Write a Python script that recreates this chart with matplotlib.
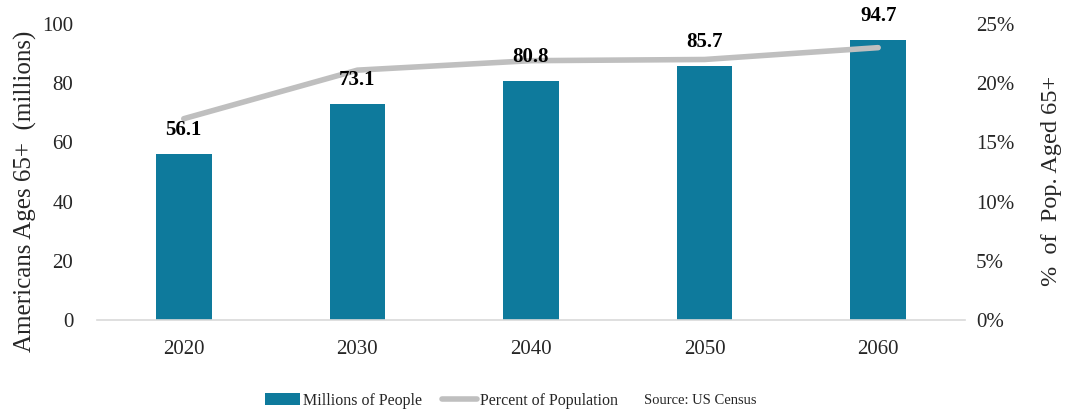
import matplotlib
matplotlib.use("Agg")
import matplotlib.pyplot as plt
from matplotlib.ticker import FuncFormatter
from matplotlib.lines import Line2D
from matplotlib.patches import Patch

years = ["2020", "2030", "2040", "2050", "2060"]
millions = [56.1, 73.1, 80.8, 85.7, 94.7]
percent = [17.0, 21.1, 21.9, 22.0, 23.0]

bar_color = "#0E7A9C"
line_color = "#BFBFBF"
text_color = "#262626"

plt.rcParams["font.family"] = ["Liberation Serif", "DejaVu Serif"]

fig = plt.figure(figsize=(10.69, 4.13), dpi=100)
ax = fig.add_axes([0.0907, 0.225, 0.812, 0.717])
ax2 = ax.twinx()

x = list(range(len(years)))
ax.bar(x, millions, width=0.32, color=bar_color, zorder=2)

ax2.plot(x, percent, color=line_color, lw=4, solid_capstyle="round",
         solid_joinstyle="round", zorder=2)

# value labels sit on the secondary axes so they render above the line
for xi, v in zip(x, millions):
    ax2.annotate(f"{v:.1f}", (xi, v), xycoords=ax.transData, xytext=(0, 10),
                 textcoords="offset points", ha="center", va="bottom",
                 fontsize=15, fontweight="bold", color="black", zorder=5)

ax.set_xlim(-0.5, 4.5)
ax.set_ylim(0, 100)
ax.set_yticks(range(0, 101, 20))
ax2.set_ylim(0, 25)
ax2.set_yticks(range(0, 26, 5))
ax2.yaxis.set_major_formatter(FuncFormatter(lambda v, _: f"{v:.0f}%"))
ax.set_xticks(x)
ax.set_xticklabels(years)

for a in (ax, ax2):
    for s in ("top", "left", "right", "bottom"):
        a.spines[s].set_visible(False)
    a.tick_params(length=0, labelsize=15, colors=text_color)
ax.spines["bottom"].set_visible(True)
ax.spines["bottom"].set_color("#D9D9D9")
ax.spines["bottom"].set_linewidth(1.2)
ax.tick_params(axis="x", pad=14)
ax.tick_params(axis="y", pad=17)
ax2.tick_params(axis="y", pad=8)

ax.set_ylabel("Americans Ages 65+  (millions)", fontsize=18, color=text_color)
ax.yaxis.set_label_coords(-0.069, 0.435)
ax2.set_ylabel("%  of  Pop. Aged 65+", fontsize=17.5, color=text_color)
ax2.yaxis.set_label_coords(1.088, 0.47)

handles = [Patch(facecolor=bar_color, edgecolor="none"),
           Line2D([0], [0], color=line_color, lw=4, solid_capstyle="round")]
fig.legend(handles, ["Millions of People", "Percent of Population"],
           loc="center left", bbox_to_anchor=(0.248, 0.03), ncol=2, frameon=False,
           fontsize=11.5, handlelength=2.2, handletextpad=0.2, columnspacing=1.2,
           labelcolor=text_color, borderaxespad=0, borderpad=0)
fig.text(0.602, 0.03, "Source: US Census", fontsize=10.5, color=text_color,
         ha="left", va="center")

fig.savefig("out.png", dpi=100)
